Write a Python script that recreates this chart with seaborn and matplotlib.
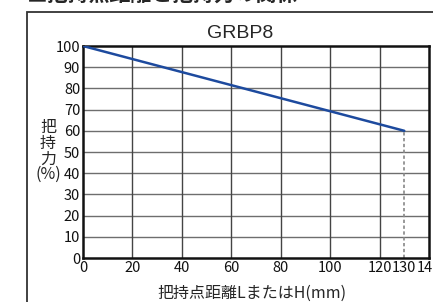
import matplotlib
matplotlib.use('Agg')
import matplotlib.pyplot as plt
import matplotlib.patches as patches
import seaborn as sns

# data
distance = [0, 130]
force = [100, 60]
x_ticks = [0, 20, 40, 60, 80, 100, 120, 130, 140]
y_ticks = [0, 10, 20, 30, 40, 50, 60, 70, 80, 90, 100]
grid_x = [20, 40, 60, 80, 100, 120]
limit_x = 130
title = 'GRBP8'

sns.set_theme(style='white')
plt.rcParams['font.family'] = ['Liberation Sans Narrow', 'Noto Sans CJK JP', 'DejaVu Sans']
cjk = ['Noto Sans CJK JP', 'DejaVu Sans']

W, H = 433, 302
fig = plt.figure(figsize=(W / 100, H / 100), dpi=100)
ax = fig.add_axes([83 / W, 1 - 258 / H, (429 - 83) / W, (258 - 46) / H])

for yv in y_ticks[1:-1]:
    ax.axhline(yv, color='#6e6e6e', lw=1.0, zorder=1)
for xv in grid_x:
    ax.axvline(xv, color='#444444', lw=1.0, zorder=1)

sns.lineplot(x=distance, y=force, ax=ax, color='#1d4a9e', lw=1.8, zorder=3)
ax.plot([limit_x, limit_x], [0, force[-1]], color='#888888', lw=1.2,
        ls=(0, (2, 1.5)), zorder=2)

ax.set_xlim(0, 140)
ax.set_ylim(0, 100)
ax.set_xticks(x_ticks)
ax.set_xticklabels([str(v) for v in x_ticks])
ax.set_yticks(y_ticks)
ax.tick_params(axis='both', length=0, labelsize=10.5, colors='#111111', pad=2)
for sp in ax.spines.values():
    sp.set_visible(True)
    sp.set_color('#111111')
    sp.set_linewidth(1.8)

ax.set_xlabel('')
ax.set_ylabel('')
fig.text(252 / W, 1 - 293 / H, '把持点距離LまたはH(mm)', ha='center', va='center',
         fontsize=11.5, family=cjk)
fig.text(48 / W, 1 - 151 / H, '把\n持\n力\n(%)', ha='center', va='center',
         fontsize=11.5, linespacing=0.9, family=cjk)
fig.text(240 / W, 1 - 33 / H, title, ha='center', va='center', fontsize=14,
         family=['Liberation Sans', 'DejaVu Sans'])

# cropped heading and outer frame
fig.text(27 / W, 1 - 2 / H, '■把持点距離と把持力の関係', ha='left', va='baseline',
         fontsize=15, weight='bold', family=cjk)
fig.patches.append(patches.Rectangle((27 / W, -0.1), 1.0, (1 - 12 / H) + 0.1,
                                     transform=fig.transFigure, fill=False,
                                     edgecolor='#333333', lw=1.3))

fig.savefig('out.png', dpi=100)
